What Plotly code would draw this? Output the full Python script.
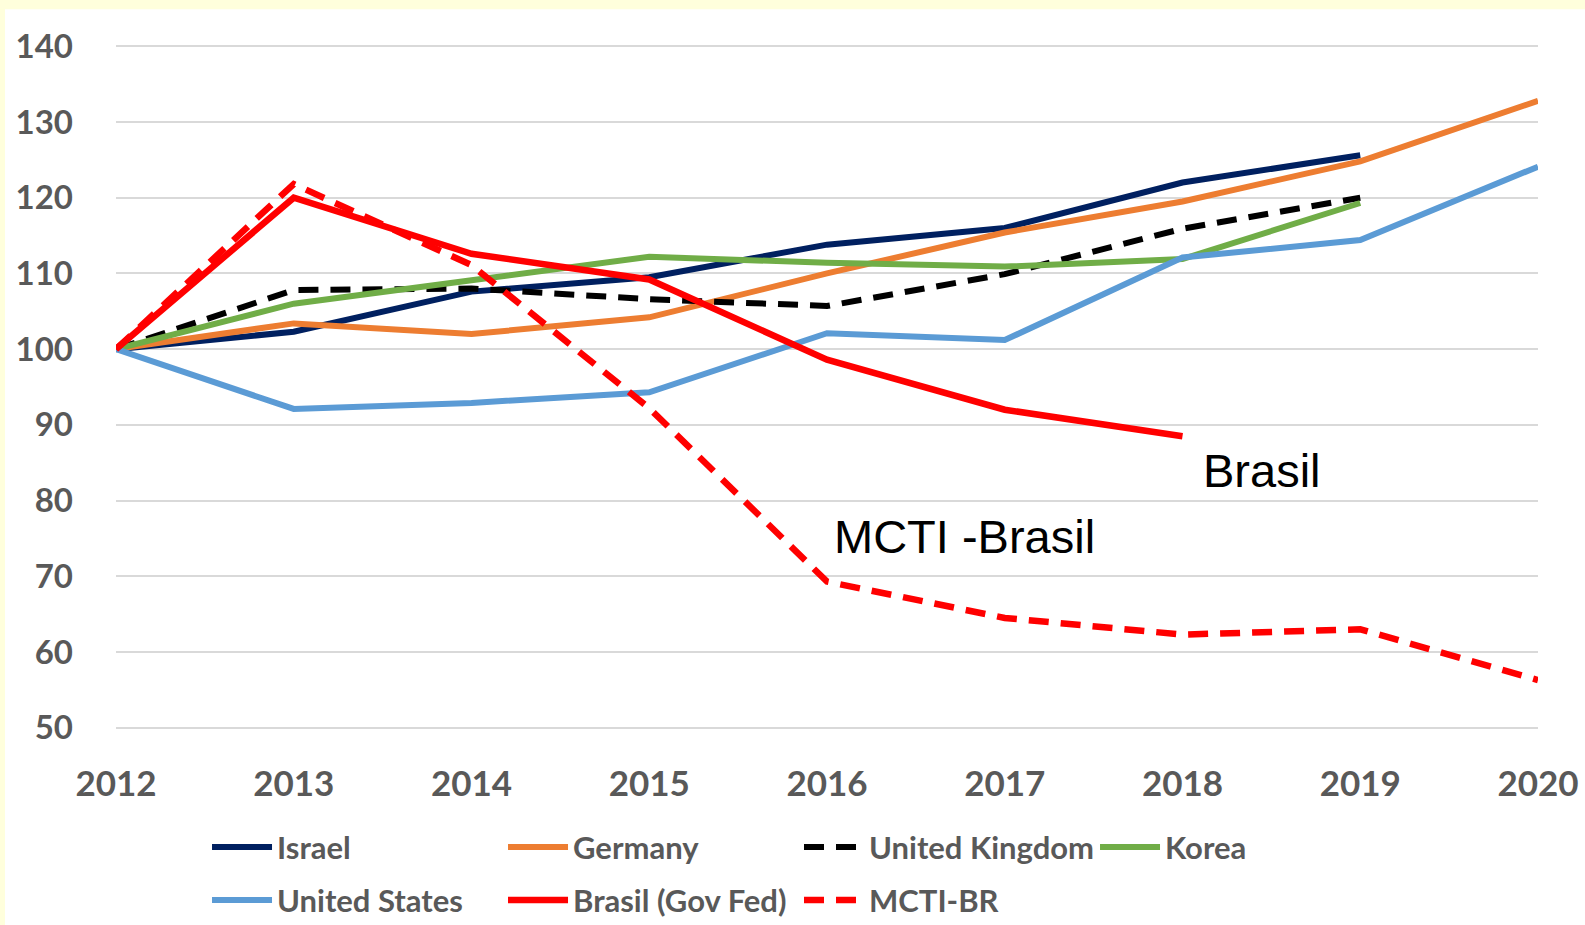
import plotly.graph_objects as go

years = [2012, 2013, 2014, 2015, 2016, 2017, 2018, 2019, 2020]

israel = [100, 102.3, 107.6, 109.5, 113.8, 116.0, 122.0, 125.6]
germany = [100, 103.4, 102.0, 104.2, 110.0, 115.4, 119.5, 124.8, 132.8]
uk = [100, 107.8, 108.0, 106.6, 105.7, 109.9, 115.9, 120.0]
korea = [100, 106.0, 109.1, 112.2, 111.4, 110.9, 111.9, 119.3]
us = [100, 92.1, 92.9, 94.3, 102.1, 101.2, 112.1, 114.4, 124.1]
brasil = [100, 120.0, 112.6, 109.2, 98.6, 92.0, 88.5]
mcti = [100, 121.8, 111.1, 92.2, 69.3, 64.5, 62.3, 63.0, 56.3]

y_ticks = [50, 60, 70, 80, 90, 100, 110, 120, 130, 140]

series = [
    ("Israel", israel, "#002060", "solid", "legend"),
    ("Germany", germany, "#ED7D31", "solid", "legend"),
    ("United Kingdom", uk, "#000000", "20px,12px", "legend"),
    ("Korea", korea, "#70AD47", "solid", "legend"),
    ("United States", us, "#5B9BD5", "solid", "legend2"),
    ("Brasil (Gov Fed)", brasil, "#FF0000", "solid", "legend2"),
    ("MCTI-BR", mcti, "#FF0000", "20px,12px", "legend2"),
]

fig = go.Figure()
for name, vals, color, dash, leg in series:
    fig.add_trace(go.Scatter(
        x=years[:len(vals)], y=vals, name=name, mode="lines",
        line=dict(color=color, width=6.5 if color == "#FF0000" else 6, dash=dash),
        legend=leg,
    ))

W, H = 1585, 925
L, R = 116, 47.3
T, B = 43.7, 195.4
pw, ph = W - L - R, H - T - B

def px_x(p):
    return (p - L) / pw

def px_y(p):
    return (H - B - p) / ph

tick_font = dict(family="Lato", size=33, color="#595959", weight="bold")
legend_font = dict(family="Lato", size=31, color="#595959", weight="bold")

fig.update_layout(
    width=W, height=H,
    margin=dict(l=L, r=R, t=T, b=B, autoexpand=False),
    paper_bgcolor="#FFFFDC",
    plot_bgcolor="#FFFFFF",
    showlegend=True,
    xaxis=dict(range=[2012, 2020], tickvals=years, ticktext=[str(y) for y in years],
               showgrid=False, zeroline=False, showline=False, ticks="",
               tickfont=dict(family="Lato", size=35, color="#595959", weight="bold"),
               ticklabelstandoff=30, automargin=False),
    yaxis=dict(range=[49.7, 140.3], tickvals=y_ticks, showgrid=True, gridcolor="#D9D9D9",
               gridwidth=1.5, zeroline=False, showline=False, ticks="",
               tickfont=tick_font, ticklabelstandoff=42, automargin=False),
    legend=dict(orientation="h", x=px_x(207), xanchor="left", y=px_y(847), yanchor="middle",
                font=legend_font, itemwidth=60, entrywidthmode="pixels", entrywidth=221,
                bgcolor="rgba(0,0,0,0)", itemclick=False, itemdoubleclick=False),
    legend2=dict(orientation="h", x=px_x(207), xanchor="left", y=px_y(900), yanchor="middle",
                 font=legend_font, itemwidth=60, entrywidthmode="pixels", entrywidth=221,
                 bgcolor="rgba(0,0,0,0)", itemclick=False, itemdoubleclick=False),
    shapes=[dict(type="rect", xref="paper", yref="paper", layer="below",
                 x0=px_x(5), x1=px_x(W + 10), y0=px_y(H + 10), y1=px_y(9),
                 fillcolor="#FFFFFF", line=dict(width=0))],
    annotations=[
        dict(x=2018.108, y=84.0, xref="x", yref="y", text="Brasil", showarrow=False,
             xanchor="left", yanchor="middle", xshift=-1,
             font=dict(family="Liberation Sans", size=47, color="#000000")),
        dict(x=2016.043, y=75.3, xref="x", yref="y", text="MCTI -Brasil", showarrow=False,
             xanchor="left", yanchor="middle", xshift=-3,
             font=dict(family="Liberation Sans", size=47, color="#000000")),
    ],
)

fig.write_html("out.html", config={"displayModeBar": False},
               post_script="document.body.style.margin='0px';document.body.style.padding='0px';")
